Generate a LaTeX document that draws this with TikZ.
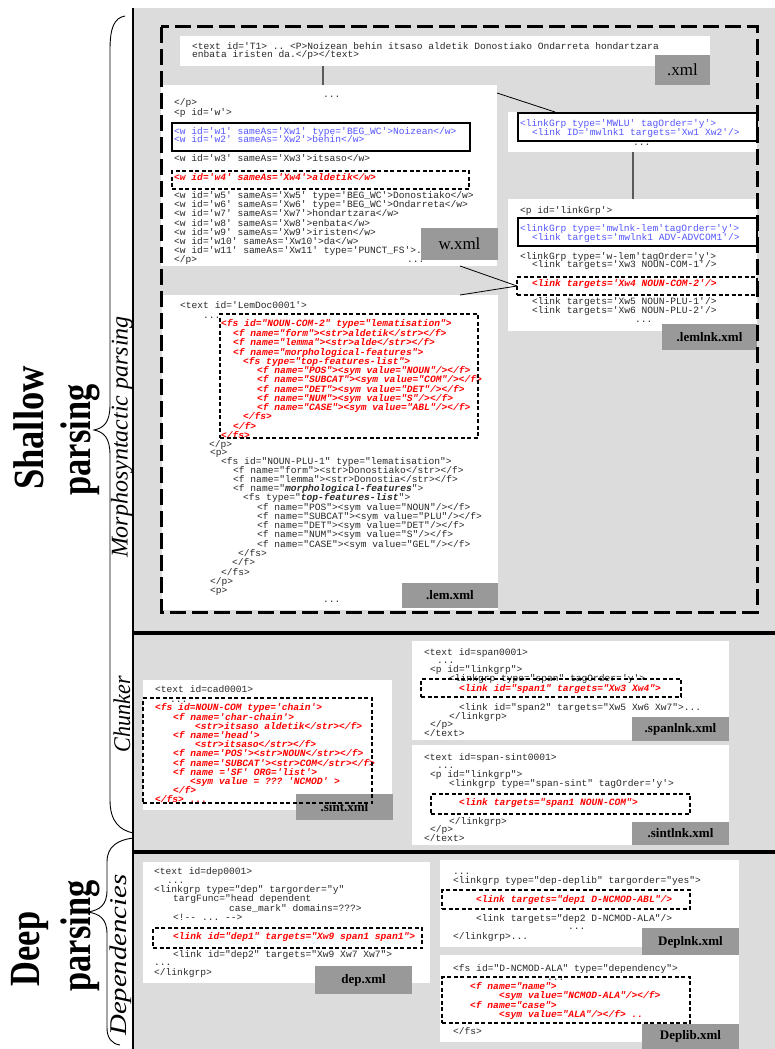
\documentclass[tikz,border=0pt]{standalone}
\usepackage{fontspec}
\setmainfont{Liberation Serif}
\setmonofont{Liberation Mono}
\usepackage{graphicx}
\definecolor{panelgray}{RGB}{220,220,220}
\definecolor{labelgray}{RGB}{153,153,153}
\definecolor{codeblue}{RGB}{85,85,255}
\definecolor{codered}{RGB}{255,0,0}
\definecolor{codeblack}{RGB}{40,40,40}
\definecolor{lnkgray}{RGB}{90,90,90}
\newcounter{lnc}
\newcommand{\codeln}[4][cb]{\stepcounter{lnc}\node[#1] (ln\arabic{lnc}) at (#2,#3) {#4};}
\newcommand{\rbox}[7]{\node[#2, anchor=north west, minimum width={#5-#3}, minimum height={#6-#4}, inner sep=0pt, outer sep=0pt] (#1) at (#3,#4) {#7};}
\tikzset{
 cb/.style={font=\ttfamily\fontsize{9.6}{9.6}\selectfont, text=codeblack, inner sep=0pt, anchor=base west, yshift=-3pt},
 cr/.style={cb, font=\ttfamily\bfseries\itshape\fontsize{9.6}{9.6}\selectfont, text=codered},
 cbl/.style={cb, text=codeblue},
 wbox/.style={fill=white, draw=none},
 lbox/.style={fill=labelgray, draw=none, font=\bfseries\fontsize{13}{13}\selectfont},
 lboxr/.style={fill=labelgray, draw=none, font=\fontsize{17}{17}\selectfont},
 sbox/.style={draw=black, line width=1.2pt},
 dbox/.style={draw=black, line width=1.4pt, dash pattern=on 4pt off 2.5pt},
 frame/.style={draw=black, line width=3pt, dash pattern=on 16pt off 6pt},
 conn/.style={draw=black, line width=0.8pt},
 gconn/.style={draw=lnkgray, line width=1.6pt},
 brace/.style={draw=black, line width=0.9pt},
 big/.style={font=\bfseries\fontsize{43}{43}\selectfont, rotate=90, inner sep=0pt},
 side/.style={font=\itshape\fontsize{24}{24}\selectfont, rotate=90, inner sep=0pt},
}
\begin{document}
\begin{tikzpicture}[x=1pt,y=-1pt]
\useasboundingbox (0,0) rectangle (775,1049);
\fill[white] (0,0) rectangle (775,1049);
% panel
\fill[panelgray] (133,8) rectangle (775,1049);
\draw[black, line width=1.5pt] (133,8) -- (133,1049);
\draw[black, line width=4pt] (133,633) -- (775,633);
\draw[black, line width=4pt] (133,852) -- (775,852);

% ---------- morphosyntactic ----------
\rbox{t1}{wbox}{180}{36}{710}{66}{}
\codeln{192}{46}{<text id='T1> .. <P>Noizean behin itsaso aldetik Donostiako Ondarreta hondartzara}
\codeln{192}{54}{enbata iristen da.</p></text>}
\rbox{xmll}{lboxr}{655}{55}{710}{85}{.xml}

\rbox{wb}{wbox}{161}{85}{497}{266}{}
\codeln{323}{94}{...}
\codeln{174}{102}{</p>}
\codeln{174}{112}{<p id='w'>}
\codeln[cbl]{174}{131}{<w id='w1' sameAs='Xw1' type='BEG\_WC'>Noizean</w>}
\codeln[cbl]{174}{139}{<w id='w2' sameAs='Xw2'>behin</w>}
\codeln{174}{158}{<w id='w3' sameAs='Xw3'>itsaso</w>}
\codeln[cr]{174}{177}{<w id='w4' sameAs='Xw4'>aldetik</w>}
\codeln{174}{195}{<w id='w5' sameAs='Xw5' type='BEG\_WC'>Donostiako</w>}
\codeln{174}{204}{<w id='w6' sameAs='Xw6' type='BEG\_WC'>Ondarreta</w>}
\codeln{174}{213}{<w id='w7' sameAs='Xw7'>hondartzara</w>}
\codeln{174}{223}{<w id='w8' sameAs='Xw8'>enbata</w>}
\codeln{174}{232}{<w id='w9' sameAs='Xw9'>iristen</w>}
\codeln{174}{241}{<w id='w10' sameAs='Xw10'>da</w>}
\codeln{174}{250}{<w id='w11' sameAs='Xw11' type='PUNCT\_FS'>.</w>}
\codeln{174}{259}{</p>}
\codeln{407}{259}{...}
\rbox{wblue}{sbox}{172}{123}{470}{151}{}
\rbox{wred}{dbox}{172}{171}{469}{189}{}
\rbox{wl}{lboxr}{421}{228}{498}{260}{w.xml}

% lem.xml
\rbox{lem}{wbox}{162}{295}{498}{610}{}
\codeln{180}{305}{<text id='LemDoc0001'>}
\codeln{203}{315}{...}
\codeln[cr]{221}{323}{<fs id="NOUN-COM-2" type="lematisation">}
\codeln[cr]{233}{333}{<f name="form"><str>aldetik</str></f>}
\codeln[cr]{233}{342}{<f name="lemma"><str>alde</str></f>}
\codeln[cr]{233}{352}{<f name="morphological-features">}
\codeln[cr]{243}{361}{<fs type="top-features-list">}
\codeln[cr]{257}{370}{<f name="POS"><sym value="NOUN"/></f>}
\codeln[cr]{257}{379}{<f name="SUBCAT"><sym value="COM"/></f>}
\codeln[cr]{257}{389}{<f name="DET"><sym value="DET"/></f>}
\codeln[cr]{257}{398}{<f name="NUM"><sym value="S"/></f>}
\codeln[cr]{257}{407}{<f name="CASE"><sym value="ABL"/></f>}
\codeln[cr]{243}{416}{</fs>}
\codeln[cr]{233}{426}{</f>}
\codeln[cr]{221}{435}{</fs>}
\codeln{209}{444}{</p>}
\codeln{210}{452}{<p>}
\codeln{221}{461}{<fs id="NOUN-PLU-1" type="lematisation">}
\codeln{233}{470}{<f name="form"><str>Donostiako</str></f>}
\codeln{233}{479}{<f name="lemma"><str>Donostia</str></f>}
\codeln{233}{488}{<f name="\textbf{\textit{morphological-features}}">}
\codeln{243}{497}{<fs type="\textbf{\textit{top-features-list}}">}
\codeln{257}{507}{<f name="POS"><sym value="NOUN"/></f>}
\codeln{257}{516}{<f name="SUBCAT"><sym value="PLU"/></f>}
\codeln{257}{525}{<f name="DET"><sym value="DET"/></f>}
\codeln{257}{534}{<f name="NUM"><sym value="S"/></f>}
\codeln{257}{544}{<f name="CASE"><sym value="GEL"/></f>}
\codeln{238}{553}{</fs>}
\codeln{232}{562}{</f>}
\codeln{221}{572}{</fs>}
\codeln{210}{581}{</p>}
\codeln{210}{590}{<p>}
\codeln{323}{599}{...}
\rbox{lemred}{dbox}{220}{314}{478}{438}{}
\rbox{leml}{lbox}{402}{583}{498}{608}{.lem.xml}

% right: linkGrp MWLU
\rbox{lg1}{wbox}{508}{112}{757}{152}{}
\codeln[cbl]{520}{123}{<linkGrp type='MWLU' tagOrder='y'>}
\codeln[cbl]{532}{132}{<link ID='mwlnk1 targets='Xw1 Xw2'/>}
\codeln{633}{142}{...}
\rbox{lg1b}{sbox}{518}{113}{757}{141}{}

% right: lemlnk
\rbox{lg2}{wbox}{508}{199}{757}{331}{}
\codeln{520}{210}{<p id='linkGrp'>}
\codeln[cbl]{520}{228}{<linkGrp type='mwlnk-lem'tagOrder='y'>}
\codeln[cbl]{532}{237}{<link targets='mwlnk1 ADV-ADVCOM1'/>}
\codeln{520}{256}{<linkGrp type='w-lem'tagOrder='y'>}
\codeln{532}{264}{<link targets='Xw3 NOUN-COM-1'/>}
\codeln[cr]{532}{283}{<link targets='Xw4 NOUN-COM-2'/>}
\codeln{532}{301}{<link targets='Xw5 NOUN-PLU-1'/>}
\codeln{532}{310}{<link targets='Xw6 NOUN-PLU-2'/>}
\codeln{635}{319}{...}
\rbox{lg2b}{sbox}{518}{218}{757}{246}{}
\rbox{lg2red}{dbox}{517}{277}{757}{295}{}
\rbox{lg2l}{lbox}{662}{324}{757}{350}{.lemlnk.xml}

% connectors (top panel)
\draw[gconn] ([xshift=143pt]t1.south west) -- ([xshift=162pt]wb.north west);
\draw[conn] ([yshift=-8pt]wb.north east) -- ([xshift=47pt]lg1.north west);
\draw[gconn] ([xshift=125pt]lg1.south west) -- ([xshift=125pt]lg2.north west);
\draw[conn] ([xshift=-37pt]wb.south east) -- (lg2red.west);
\draw[conn] ([xshift=-38pt]lem.north east) -- (lg2red.west);

% frame
\draw[frame] (161,27) rectangle (757,612);

% ---------- chunker ----------
\rbox{sint}{wbox}{143}{680}{392}{810}{}
\codeln{155}{689}{<text id=cad0001>}
\codeln{170}{699}{...}
\codeln[cr]{155}{707}{<fs id=NOUN-COM type='chain'>}
\codeln[cr]{173}{717}{<f name='char-chain'>}
\codeln[cr]{195}{726}{<str>itsaso aldetik</str></f>}
\codeln[cr]{173}{735}{<f name='head'>}
\codeln[cr]{195}{744}{<str>itsaso</str></f>}
\codeln[cr]{173}{753}{<f name='POS'><str>NOUN</str></f>}
\codeln[cr]{173}{763}{<f name='SUBCAT'><str>COM</str></f>}
\codeln[cr]{173}{772}{<f name ='SF' ORG='list'>}
\codeln[cr]{190}{781}{<sym value = ??? 'NCMOD' >}
\codeln[cr]{173}{790}{</f>}
\codeln[cr]{155}{799}{</fs> ...}
\rbox{sintl}{lbox}{296}{794}{393}{820}{.sint.xml}
\rbox{sintred}{dbox}{143}{698}{372}{803}{}

\rbox{span}{wbox}{412}{641}{729}{740}{}
\codeln{424}{652}{<text id=span0001>}
\codeln{437}{660}{...}
\codeln{430}{669}{<p id="linkgrp">}
\codeln{449}{678}{<linkgrp type="span" tagOrder='y'>}
\codeln[cr]{459}{688}{<link id="span1" targets="Xw3 Xw4">}
\codeln{459}{707}{<link id="span2" targets="Xw5 Xw6 Xw7">...}
\codeln{449}{716}{</linkgrp>}
\codeln{430}{724}{</p>}
\codeln{424}{733}{</text>}
\rbox{spanred}{dbox}{421}{679}{681}{697}{}
\rbox{spanl}{lbox}{632}{717}{729}{741}{.spanlnk.xml}

\rbox{ssint}{wbox}{412}{745}{729}{845}{}
\codeln{424}{757}{<text id=span-sint0001>}
\codeln{437}{765}{...}
\codeln{430}{774}{<p id="linkgrp">}
\codeln{449}{783}{<linkgrp type="span-sint" tagOrder='y'>}
\codeln[cr]{459}{802}{<link targets="span1 NOUN-COM">}
\codeln{449}{821}{</linkgrp>}
\codeln{430}{829}{</p>}
\codeln{424}{838}{</text>}
\rbox{ssintred}{dbox}{431}{794}{690}{814}{}
\rbox{ssintl}{lbox}{632}{822}{729}{845}{.sintlnk.xml}

% ---------- dependencies ----------
\rbox{dep}{wbox}{143}{862}{430}{983}{}
\codeln{154}{871}{<text id=dep0001>}
\codeln{167}{880}{...}
\codeln{154}{889}{<linkgrp type="dep" targorder="y"}
\codeln{173}{898}{targFunc="head dependent}
\codeln{229}{908}{case\_mark" domains=???>}
\codeln{173}{917}{<!-- ... -->}
\codeln[cr]{173}{936}{<link id="dep1" targets="Xw9 span1 span1">}
\codeln{173}{954}{<link id="dep2" targets="Xw9 Xw7 Xw7">}
\codeln{154}{962}{...}
\codeln{154}{972}{</linkgrp>}
\rbox{depred}{dbox}{153}{928}{422}{948}{}
\rbox{depl}{lbox}{315}{966}{412}{994}{dep.xml}

\rbox{dlnk}{wbox}{440}{860}{739}{947}{}
\codeln{453}{871}{...}
\codeln{453}{880}{<linkgrp type="dep-deplib" targorder="yes">}
\codeln[cr]{476}{899}{<link targets="dep1 D-NCMOD-ABL"/>}
\codeln{476}{918}{<link targets="dep2 D-NCMOD-ALA"/>}
\codeln{568}{926}{...}
\codeln{453}{936}{</linkgrp>...}
\rbox{dlnkred}{dbox}{442}{890}{690}{909}{}
\rbox{dlnkl}{lbox}{642}{928}{739}{956}{Deplnk.xml}

\rbox{dlib}{wbox}{440}{955}{739}{1042}{}
\codeln{453}{968}{<fs id="D-NCMOD-ALA" type="dependency">}
\codeln{547}{977}{...}
\codeln[cr]{470}{986}{<f name="name">}
\codeln[cr]{499}{995}{<sym value="NCMOD-ALA"/></f>}
\codeln[cr]{470}{1005}{<f name="case">}
\codeln[cr]{499}{1014}{<sym value="ALA"/></f> ..}
\codeln{453}{1031}{</fs>}
\rbox{dlibred}{dbox}{442}{977}{690}{1023}{}
\rbox{dlibl}{lbox}{642}{1024}{739}{1049}{Deplib.xml}

% ---------- left labels ----------
\node[big] (shallow) at (29,428) {\scalebox{0.85}[1]{Shallow}};
\node[big] (parsing1) at (80,440) {\scalebox{0.8}[1]{parsing}};
\node[big] (deep) at (30,949) {\scalebox{0.8}[1]{Deep}};
\node[big] (parsing2) at (80,936) {\scalebox{0.8}[1]{parsing}};
\node[side] (morph) at (122,437) {Morphosyntactic parsing};
\node[side] (chunk) at (122,714) {\scalebox{0.92}[1]{Chunker}};
\node[side] (depn) at (121,955) {\scalebox{1.2}[1]{Dependencies}};

\draw[brace] (125,16) .. controls (114,18) and (110,28) .. (110,50) -- (110,405)
  .. controls (110,422) and (104,428) .. (94,430)
  .. controls (104,432) and (110,438) .. (110,455) -- (110,800)
  .. controls (110,822) and (120,830) .. (133,833);
\draw[brace] (133,838) .. controls (118,840) and (107,846) .. (107,862) -- (107,890)
  .. controls (107,905) and (100,910) .. (88,912)
  .. controls (100,914) and (107,919) .. (107,934) -- (107,1028)
  .. controls (107,1038) and (112,1044) .. (120,1045);
\end{tikzpicture}
\end{document}
